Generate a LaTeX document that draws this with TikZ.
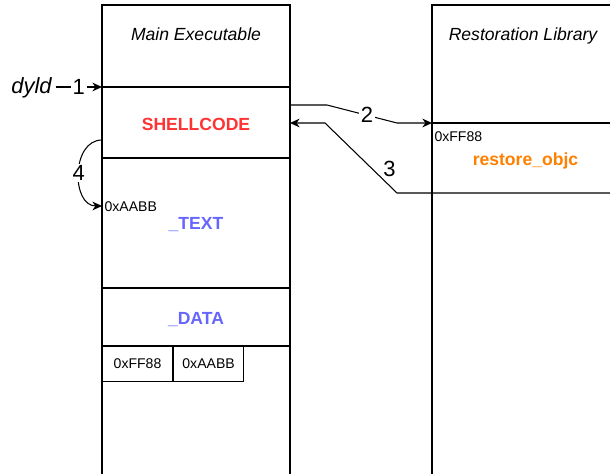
\documentclass[tikz,border=0pt]{standalone}
\usepackage{fontspec}
\setmainfont{Liberation Sans}
\usetikzlibrary{arrows.meta}
\definecolor{shell}{RGB}{255,51,51}
\definecolor{seg}{RGB}{102,102,255}
\definecolor{lib}{RGB}{255,128,0}
\newcommand{\segline}[1]{\draw (102,#1)--(290,#1);}
\tikzset{
  coltitle/.style={font=\fontsize{10}{12}\selectfont\itshape, inner sep=0pt, anchor=base},
  section/.style={font=\fontsize{10}{12}\selectfont\bfseries, inner sep=0pt, anchor=base},
  addr/.style={font=\fontsize{8}{9.5}\selectfont, inner sep=0pt, anchor=base west},
  addrbox/.style={draw, font=\fontsize{8}{9.5}\selectfont, minimum width=14mm, minimum height=7mm, inner sep=0pt, anchor=north west},
  numlabel/.style={font=\fontsize{12.5}{14}\selectfont, fill=white, inner sep=1pt},
  flow/.style={-{Stealth[length=5.5pt,width=5pt]}}
}
\begin{document}
\begin{tikzpicture}[x=0.2mm,y=-0.2mm,line width=.6pt]
\useasboundingbox (0,0) rectangle (610,474);
\draw (102,474)--(102,5)--(290,5)--(290,474);
\draw (432,474)--(432,5)--(610,5);
\segline{87}\segline{158}\segline{288}\segline{346}
\draw (432,123)--(610,123);
\node[coltitle] (mainexe) at (196,40) {Main Executable};
\node[coltitle] (restlib) at (523,40) {Restoration Library};
\node[section, text=shell] (shellcode) at (196,130) {SHELLCODE};
\node[section, text=seg] (textseg) at (196,229) {\_TEXT};
\node[section, text=seg] (dataseg) at (196,324.5) {\_DATA};
\node[section, text=lib] (restobjc) at (525.5,165) {restore\_objc};
\node[addr] (libaddr) at (434,141) {0xFF88};
\node[addr] (textaddr) at (104,211) {0xAABB};
\node[addrbox] (slotff) at (102,346) {0xFF88};
\node[addrbox] (slotaa) at (slotff.north east) {0xAABB};
\coordinate (entry) at (102,87);
\coordinate (shellout) at (290,105);
\coordinate (libin) at (432,123);
\coordinate (libout) at (610,193);
\coordinate (shellin) at (290,123);
\coordinate (jumpfrom) at (102,140);
\coordinate (jumpto) at (102,206);
\node[font=\fontsize{12.5}{14}\selectfont\itshape, inner ysep=0pt, inner xsep=2pt] (dyld) at (31.5,88) {dyld};
\draw[flow] (dyld.east |- entry) -- node[numlabel]{1} (entry);
\draw[flow] (shellout) -- ++(37,0) -- node[numlabel, pos=.57]{2} ++(70,18) -- (libin);
\draw[flow] (libout) -- ++(-213,0) -- node[numlabel, pos=.21, anchor=south west, inner sep=.5pt]{3} ++(-72,-70) -- (shellin);
\draw[flow] (jumpfrom) to[out=180,in=180,looseness=1.2] node[numlabel]{4} (jumpto);
\end{tikzpicture}
\end{document}
